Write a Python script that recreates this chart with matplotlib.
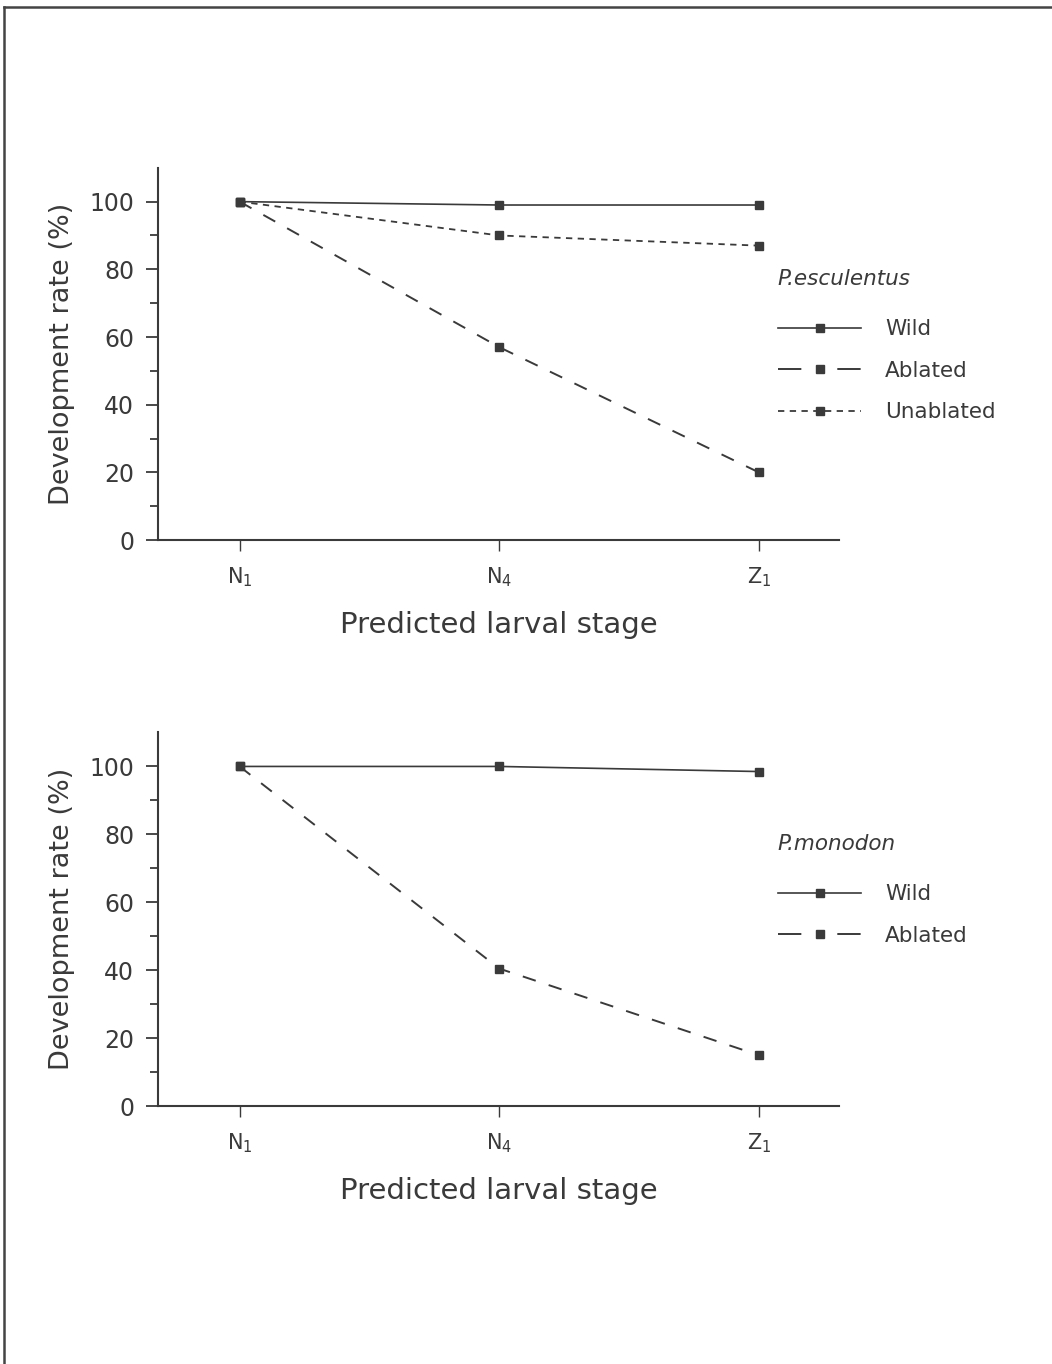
import matplotlib
matplotlib.use("Agg")
import matplotlib.pyplot as plt
from matplotlib.lines import Line2D

stages = ["N$_1$", "N$_4$", "Z$_1$"]

# P. esculentus
esc_wild = [100, 99, 99]
esc_ablated = [100, 57, 20]
esc_unablated = [100, 90, 87]

# P. monodon
mon_wild = [100, 100, 98.5]
mon_ablated = [100, 40.5, 15]

ink = "#3a3a3a"
plt.rcParams["font.family"] = "DejaVu Sans"
plt.rcParams["mathtext.fontset"] = "dejavusans"
plt.rcParams["mathtext.default"] = "regular"
plt.rcParams["text.color"] = ink
plt.rcParams["axes.labelcolor"] = ink
plt.rcParams["xtick.color"] = ink
plt.rcParams["ytick.color"] = ink

fig = plt.figure(figsize=(10.52, 13.64), dpi=100)

styles = {
    "Wild": dict(linestyle="-", lw=1.2),
    "Ablated": dict(linestyle=(0, (7, 7)), lw=1.4),
    "Unablated": dict(linestyle=(0, (3.5, 3)), lw=1.3),
}
# legend keys: dash - marker - dash for the ablated line
key_styles = dict(styles)
key_styles["Ablated"] = dict(linestyle=(0, (12, 18.5)), lw=1.4)


def panel(rect, series, title):
    ax = fig.add_axes(rect)
    x = range(len(stages))
    handles = []
    for name, vals in series:
        ax.plot(x, vals, color=ink, marker="s", ms=5.8,
                mec=ink, mfc=ink, **styles[name])
        handles.append(Line2D([], [], color=ink, marker="s", ms=5.8,
                              mec=ink, mfc=ink, label=name, **key_styles[name]))
    ax.set_xlim(-0.315, 2.31)
    ax.set_ylim(0, 110)
    ax.set_xticks(list(x))
    ax.set_xticklabels(stages, fontsize=15)
    ax.set_yticks(range(0, 101, 20))
    ax.set_yticks(range(10, 110, 20), minor=True)
    ax.tick_params(axis="y", which="major", length=9, width=1.3, labelsize=17, pad=8)
    ax.tick_params(axis="y", which="minor", length=6, width=1.3)
    ax.tick_params(axis="x", length=8, width=1.0, pad=10)
    for s in ("top", "right"):
        ax.spines[s].set_visible(False)
    for s in ("left", "bottom"):
        ax.spines[s].set_linewidth(1.5)
        ax.spines[s].set_color(ink)
    ax.set_xlabel("Predicted larval stage", fontsize=21, labelpad=16)
    ax.set_ylabel("Development rate (%)", fontsize=19.5, labelpad=10)
    leg = ax.legend(handles=handles, loc="upper left", bbox_to_anchor=(0.887, 0.769),
                    frameon=False, fontsize=15.5, handlelength=3.9, handletextpad=1.1,
                    labelspacing=1.0, title=title, alignment="left", borderpad=0.2)
    leg.get_title().set_fontsize(15.5)
    leg.get_title().set_fontstyle("italic")
    leg.get_title().set_color(ink)
    leg._legend_box.sep = 22
    return ax


panel([0.150, 0.604, 0.648, 0.273],
      [("Wild", esc_wild), ("Ablated", esc_ablated), ("Unablated", esc_unablated)],
      "P.esculentus")
panel([0.150, 0.189, 0.648, 0.274],
      [("Wild", mon_wild), ("Ablated", mon_ablated)],
      "P.monodon")

# page frame: left and top edges
fig.add_artist(Line2D([0.0035, 0.0035], [0, 0.995], transform=fig.transFigure,
                      color="#444444", lw=1.8))
fig.add_artist(Line2D([0.0035, 1.0], [0.995, 0.995], transform=fig.transFigure,
                      color="#444444", lw=1.8))

fig.savefig("out.png", dpi=100)
